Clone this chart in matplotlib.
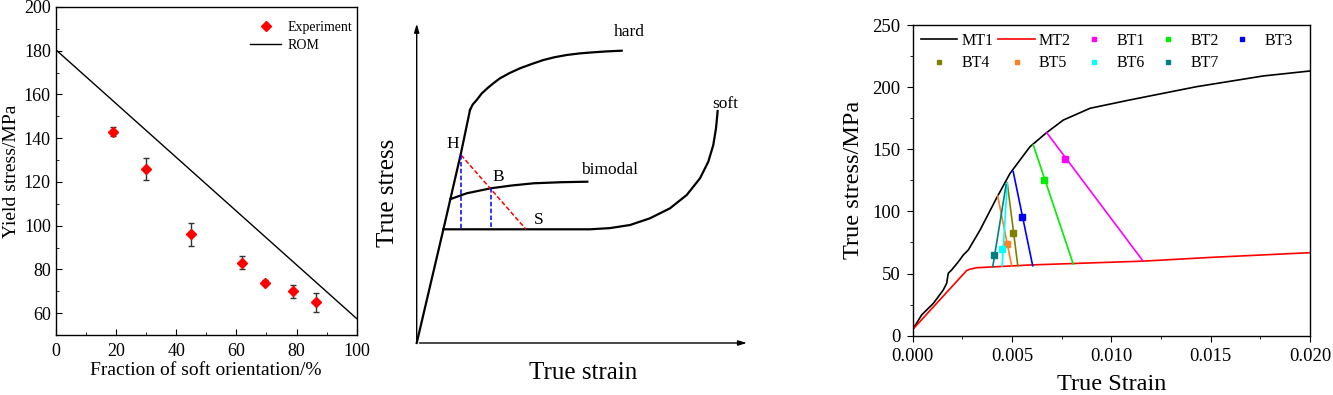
import matplotlib
matplotlib.use("Agg")
import matplotlib.pyplot as plt
from matplotlib.ticker import MultipleLocator, FormatStrFormatter
from matplotlib.lines import Line2D

plt.rcParams['font.family'] = ['Liberation Serif', 'DejaVu Serif']

# ---------------- Panel 1 data ----------------
frac_soft = [18.9, 29.9, 44.9, 61.8, 69.5, 78.9, 86.5]
yield_exp = [142.9, 126.0, 96.0, 83.1, 74.0, 70.0, 64.9]
yield_err = [2.0, 4.9, 5.2, 3.0, 1.1, 3.0, 4.2]
rom_x = [0, 100]
rom_y = [180.5, 57.5]

# ---------------- Panel 2 (schematic) data ----------------
elastic_x = [0, 26.7, 44.3, 53.3]
elastic_y = [0, 113.7, 190, 233]
hard_x = [53.3, 56, 60, 65, 70.6, 77, 83.3, 93, 103.3, 115, 126.7, 138, 150, 163, 176.7, 190, 205]
hard_y = [233, 238.5, 243, 249.5, 254.7, 260, 264.7, 270, 274.7, 279, 283, 285.8, 288, 289.6, 290.7, 291.6, 292.3]
bimodal_x = [34, 50, 74, 95, 116.7, 145, 170.6]
bimodal_y = [144, 149.7, 154.7, 157.5, 159.7, 160.8, 161.3]
soft_x = [26.7, 173.3, 193.3, 213.3, 233.3, 253.3, 270, 283.3, 291.6, 296.6, 299.3, 300.6, 300.9]
soft_y = [113.7, 113.7, 114.9, 118, 124.7, 134.7, 148, 164.7, 181.3, 198, 214.7, 228, 232]
red_x = [44.3, 109.3]
red_y = [188, 113.7]
blue1_x = [44.3, 44.3]
blue1_y = [188, 113.7]
blue2_x = [74, 74]
blue2_y = [154.7, 113.7]

# ---------------- Panel 3 data ----------------
mt1_x = [0, 0.00045, 0.00104, 0.00154, 0.00171, 0.00179, 0.00196, 0.0023, 0.00255,
         0.0028, 0.00339, 0.00423, 0.0049, 0.0059, 0.00674, 0.00758, 0.00893, 0.0109,
         0.0143, 0.01765, 0.020]
mt1_y = [5, 16.7, 26, 36.8, 42.2, 50.2, 52.9, 59.5, 65, 69, 85, 111, 130.6, 152,
         163.4, 173.5, 183, 189.6, 200.4, 209, 213]
mt2_x = [0, 0.00272, 0.0029, 0.00322, 0.0059, 0.0116, 0.015, 0.020]
mt2_y = [5, 52.5, 53.6, 54.7, 56.9, 60.0, 63.0, 66.8]

bt_names = ['BT1', 'BT2', 'BT3', 'BT4', 'BT5', 'BT6', 'BT7']
bt_colors = ['#ff00ff', '#00ee00', '#0000ff', '#808000', '#ff8020', '#00ffff', '#008080']
bt_x_start = [0.00675, 0.00607, 0.00506, 0.00476, 0.00428, 0.00476, 0.0047]
bt_y_start = [163.3, 153.4, 132, 123.1, 112.4, 122.6, 121.3]
bt_x_end = [0.01158, 0.00808, 0.00604, 0.00529, 0.00498, 0.0045, 0.00403]
bt_y_end = [60.4, 57.7, 56.3, 56.3, 56.3, 56.3, 55.5]
bt_x_mark = [0.00768, 0.00661, 0.00552, 0.00506, 0.00476, 0.00451, 0.00411]
bt_y_mark = [142.4, 125.3, 95.8, 82.9, 73.5, 69.8, 64.9]

W, H = 1333, 395
fig = plt.figure(figsize=(W / 100, H / 100), dpi=100)

def rect(l, t, r, b):
    return [l / W, 1 - b / H, (r - l) / W, (b - t) / H]

# ---------------- Panel 1 ----------------
ax1 = fig.add_axes(rect(55.7, 7, 356.7, 335))
ax1.plot(rom_x, rom_y, color='black', lw=1.0, label='ROM')
ax1.errorbar(frac_soft, yield_exp, yerr=yield_err, fmt='none', ecolor='#333333',
             elinewidth=1.0, capsize=2.5, capthick=1.0)
ax1.plot(frac_soft, yield_exp, linestyle='none', marker='D', color='red',
         markersize=4.8, label='Experiment')
ax1.set_xlim(0, 100)
ax1.set_ylim(50, 200)
ax1.set_xticks(range(0, 101, 20))
ax1.set_yticks(range(60, 201, 20))
ax1.xaxis.set_minor_locator(MultipleLocator(10))
ax1.set_yticks(range(70, 200, 20), minor=True)
ax1.tick_params(which='both', direction='in', labelsize=13, top=False, right=False)
ax1.tick_params(which='major', length=4)
ax1.tick_params(which='minor', length=2.5)
ax1.tick_params(axis='x', pad=6)
ax1.set_xlabel('Fraction of soft orientation/%', fontsize=14, labelpad=1)
ax1.set_ylabel('Yield stress/MPa', fontsize=14, labelpad=3)
h, l = ax1.get_legend_handles_labels()
ax1.legend([h[1], h[0]], [l[1], l[0]], loc='upper right', bbox_to_anchor=(1.0, 0.97),
           frameon=False, fontsize=10, handlelength=2.2, borderaxespad=0.1, borderpad=0.2,
           labelspacing=0.35, handletextpad=0.5)
for s in ax1.spines.values():
    s.set_linewidth(1.0)

# ---------------- Panel 2 ----------------
ax2 = fig.add_axes(rect(370, 0, 800, 395))
ax2.set_xlim(370 - 416.7, 800 - 416.7)
ax2.set_ylim(343 - 395, 343)
ax2.axis('off')
ax2.annotate('', xy=(0, 322), xytext=(0, 0),
             arrowprops=dict(arrowstyle='-|>,head_length=0.5,head_width=0.15', color='black', lw=1.0))
ax2.annotate('', xy=(333, 0), xytext=(0, 0),
             arrowprops=dict(arrowstyle='-|>,head_length=0.5,head_width=0.15', color='black', lw=1.0))
ax2.plot(elastic_x, elastic_y, color='black', lw=1.6, solid_joinstyle='round')
ax2.plot(hard_x, hard_y, color='black', lw=1.6, solid_joinstyle='round')
ax2.plot(bimodal_x, bimodal_y, color='black', lw=1.6, solid_joinstyle='round')
ax2.plot(soft_x, soft_y, color='black', lw=1.6, solid_joinstyle='round')
ax2.plot(red_x, red_y, color='red', lw=1.1, ls=(0, (3, 1.5)))
ax2.plot(blue1_x, blue1_y, color='blue', lw=1.1, ls=(0, (3, 1.5)))
ax2.plot(blue2_x, blue2_y, color='blue', lw=1.1, ls=(0, (3, 1.5)))
ax2.text(-29.2, 150, 'True stress', rotation=90, fontsize=18, ha='center', va='center')
ax2.text(166, -30.3, 'True strain', fontsize=18, ha='center', va='center')
ax2.text(212.6, 311.3, 'hard', fontsize=12.5, ha='center', va='center')
ax2.text(308.3, 239, 'soft', fontsize=12.5, ha='center', va='center')
ax2.text(192.6, 173, 'bimodal', fontsize=12.5, ha='center', va='center')
ax2.text(36, 199, 'H', fontsize=12.5, ha='center', va='center')
ax2.text(81.6, 166.3, 'B', fontsize=12.5, ha='center', va='center')
ax2.text(121.6, 123, 'S', fontsize=12.5, ha='center', va='center')

# ---------------- Panel 3 ----------------
ax3 = fig.add_axes(rect(912.7, 25, 1310, 335.7))
l_mt1, = ax3.plot(mt1_x, mt1_y, color='black', lw=1.2, label='MT1')
l_mt2, = ax3.plot(mt2_x, mt2_y, color='red', lw=1.2, label='MT2')
bt_handles = []
for i in range(len(bt_names)):
    ax3.plot([bt_x_start[i], bt_x_end[i]], [bt_y_start[i], bt_y_end[i]],
             color=bt_colors[i], lw=1.2)
    ax3.plot([bt_x_mark[i]], [bt_y_mark[i]], linestyle='none', marker='s',
             color=bt_colors[i], markersize=4.5)
    bt_handles.append(Line2D([], [], linestyle='none', marker='s', color=bt_colors[i],
                             markersize=3.5, label=bt_names[i]))
ax3.set_xlim(0, 0.020)
ax3.set_ylim(0, 250)
ax3.xaxis.set_major_locator(MultipleLocator(0.005))
ax3.xaxis.set_minor_locator(MultipleLocator(0.0025))
ax3.xaxis.set_major_formatter(FormatStrFormatter('%.3f'))
ax3.yaxis.set_major_locator(MultipleLocator(50))
ax3.yaxis.set_minor_locator(MultipleLocator(25))
ax3.tick_params(which='both', direction='out', labelsize=13.5, top=False, right=False)
ax3.tick_params(which='major', length=4, pad=5)
ax3.tick_params(which='minor', length=2.5)
ax3.set_xlabel('True Strain', fontsize=17.5, labelpad=6)
ax3.set_ylabel('True stress/MPa', fontsize=17.5, labelpad=6)
all_h = [l_mt1, l_mt2] + bt_handles
# reorder so legend fills row-wise (5 columns)
order = [0, 5, 1, 6, 2, 7, 3, 8, 4]
ax3.legend([all_h[k] for k in order], [all_h[k].get_label() for k in order],
           loc='upper left', ncol=5, frameon=False, fontsize=11.5,
           handlelength=2.3, columnspacing=0.3, handletextpad=0.25,
           borderaxespad=0.2, borderpad=0.3, labelspacing=0.4)
for s in ax3.spines.values():
    s.set_linewidth(1.0)

fig.savefig('out.png', dpi=100)
